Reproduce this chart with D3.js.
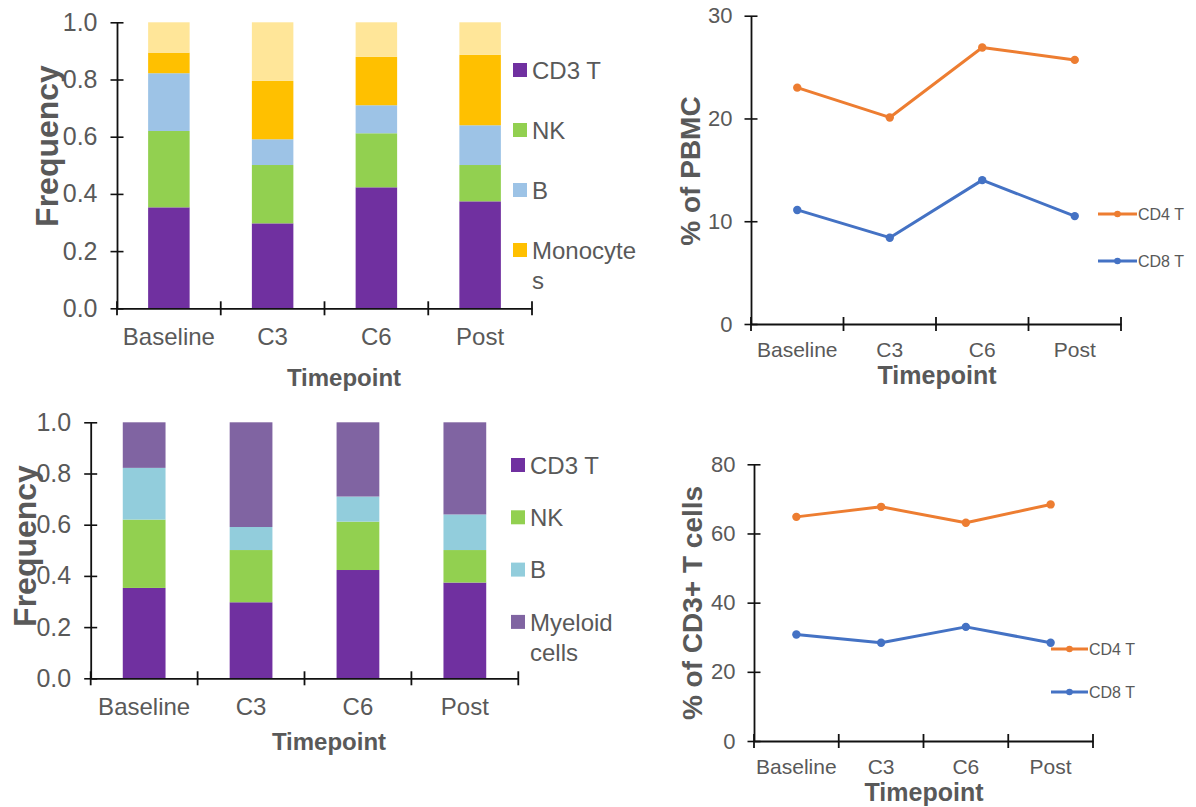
<!DOCTYPE html>
<html>
<head>
<meta charset="utf-8">
<title>Immune cell frequencies</title>
<style>
  body { margin: 0; background: #fff; }
  svg { display: block; font-family: "Liberation Sans", Arial, sans-serif; }
  .title { font-weight: bold; fill: #595959; }
  .lab { fill: #595959; }
</style>
</head>
<body>
<svg id="chart" width="1196" height="807"></svg>
<script src="https://cdn.jsdelivr.net/npm/d3@7"></script>
<script>
// categories
var timepoints = ["Baseline", "C3", "C6", "Post"];

// stacked frequencies (fraction of PBMC)
var cd3T      = [0.353, 0.297, 0.423, 0.374];
var nk        = [0.267, 0.204, 0.189, 0.127];
var bCells    = [0.202, 0.090, 0.098, 0.139];
var monocytes = [0.072, 0.204, 0.169, 0.246];
var otherPop  = [0.106, 0.205, 0.121, 0.114];
var myeloid   = [0.178, 0.409, 0.290, 0.360];

// line series
var cd4OfPbmc = [23.0, 20.1, 26.9, 25.7];
var cd8OfPbmc = [11.1, 8.4, 14.0, 10.5];
var cd4OfCd3  = [64.8, 67.7, 63.1, 68.4];
var cd8OfCd3  = [30.8, 28.4, 33.0, 28.4];

// tick labels
var freqTicks = [0, 0.2, 0.4, 0.6, 0.8, 1.0];
var pbmcTicks = [0, 10, 20, 30];
var cd3Ticks  = [0, 20, 40, 60, 80];

var svg = d3.select("#chart");

function boundaryTicks(g, x, y0) {
    var pos = timepoints.map(function(t) { return x(t); }).concat([x.range()[1]]);
    g.selectAll("line.bt").data(pos).join("line")
        .attr("class", "bt")
        .attr("x1", function(d) { return d; }).attr("x2", function(d) { return d; })
        .attr("y1", y0 - 7).attr("y2", y0 + 7)
        .attr("stroke", "#111").attr("stroke-width", 1.8);
}

function yAxis(g, y, x0, ticks, fmt, size, pad) {
    var a = g.append("g")
        .attr("transform", "translate(" + x0 + ",0)")
        .call(d3.axisLeft(y).tickValues(ticks).tickFormat(fmt).tickSize(6.5).tickSizeOuter(0).tickPadding(pad));
    a.attr("font-size", size).attr("font-family", null).attr("color", "#111");
    a.select(".domain").attr("stroke-width", 1.8);
    a.selectAll(".tick line").attr("x1", 6.5).attr("stroke-width", 1.6);
    a.selectAll(".tick text").attr("fill", "#595959");
}

function xAxis(g, x, y0, size, pad) {
    var a = g.append("g")
        .attr("transform", "translate(0," + y0 + ")")
        .call(d3.axisBottom(x).tickSize(0).tickSizeOuter(0).tickPadding(pad));
    a.attr("font-size", size).attr("font-family", null).attr("color", "#111");
    a.select(".domain").attr("stroke-width", 1.8);
    a.selectAll(".tick text").attr("fill", "#595959");
    boundaryTicks(g, x, y0);
}

function barChart(o) {
    var g = svg.append("g");
    var x = d3.scaleBand().domain(timepoints).range([o.x0, o.x1]);
    var y = d3.scaleLinear().domain([0, 1]).range([o.y0, o.y1]);
    var keys = o.series.map(function(s, i) { return "s" + i; });
    var rows = timepoints.map(function(t, i) {
        var r = { t: t };
        o.series.forEach(function(s, j) { r["s" + j] = s[i]; });
        return r;
    });
    var layers = d3.stack().keys(keys)(rows);
    var bw = x.bandwidth() * 0.4;

    g.selectAll("g.layer").data(layers).join("g")
        .attr("class", "layer")
        .attr("fill", function(d, i) { return o.colors[i]; })
        .selectAll("rect").data(function(d) { return d; }).join("rect")
        .attr("x", function(d) { return x(d.data.t) + (x.bandwidth() - bw) / 2; })
        .attr("width", bw)
        .attr("y", function(d) { return y(d[1]); })
        .attr("height", function(d) { return y(d[0]) - y(d[1]); });

    yAxis(g, y, o.x0, freqTicks, d3.format(".1f"), 25, 13);
    xAxis(g, x, o.y0, 24, 20);

    // legend
    var leg = g.selectAll("g.leg").data(o.legend).join("g")
        .attr("class", "leg")
        .attr("transform", function(d, i) { return "translate(" + o.legX + "," + (o.legY + i * o.legStep) + ")"; });
    leg.append("rect").attr("x", 0).attr("y", -7).attr("width", 14).attr("height", 14)
        .attr("fill", function(d, i) { return o.colors[i]; });
    leg.append("text").attr("class", "lab").attr("font-size", 24)
        .selectAll("tspan").data(function(d) { return [].concat(d); }).join("tspan")
        .attr("x", 19).attr("y", function(d, i) { return i * 30; }).attr("dy", "0.36em")
        .text(function(d) { return d; });

    g.append("text").attr("class", "title").attr("font-size", 24)
        .attr("text-anchor", "middle").attr("x", o.xTitleX).attr("y", o.xTitleY).text("Timepoint");
    g.append("text").attr("class", "title").attr("font-size", 32)
        .attr("text-anchor", "middle")
        .attr("transform", "translate(" + o.yTitleX + "," + o.yTitleY + ") rotate(-90)")
        .text("Frequency");
}

function lineChart(o) {
    var g = svg.append("g");
    var x = d3.scaleBand().domain(timepoints).range([o.x0, o.x1]);
    var y = d3.scaleLinear().domain([0, o.max]).range([o.y0, o.y1]);
    var cx = function(t) { return x(t) + x.bandwidth() / 2; };

    yAxis(g, y, o.x0, o.ticks, d3.format("d"), 22, 12);
    xAxis(g, x, o.y0, 21, 18);

    var line = d3.line().x(function(d, i) { return cx(timepoints[i]); }).y(function(d) { return y(d); });
    o.series.forEach(function(s, j) {
        g.append("path").datum(s).attr("d", line)
            .attr("fill", "none").attr("stroke", o.colors[j]).attr("stroke-width", 3)
            .attr("stroke-linejoin", "round");
        g.selectAll("circle.m" + j).data(s).join("circle")
            .attr("class", "m" + j)
            .attr("cx", function(d, i) { return cx(timepoints[i]); })
            .attr("cy", function(d) { return y(d); })
            .attr("r", 4.2).attr("fill", o.colors[j]);
    });

    var leg = g.selectAll("g.leg").data(o.names).join("g")
        .attr("class", "leg")
        .attr("transform", function(d, i) { return "translate(" + o.legX + "," + o.legY[i] + ")"; });
    leg.append("line").attr("x1", 0).attr("x2", o.legW).attr("y1", 0).attr("y2", 0)
        .attr("stroke", function(d, i) { return o.colors[i]; }).attr("stroke-width", 3);
    leg.append("circle").attr("cx", o.legW / 2).attr("cy", 0).attr("r", 3.3)
        .attr("fill", function(d, i) { return o.colors[i]; });
    leg.append("text").attr("class", "lab").attr("font-size", 16)
        .attr("x", o.legW + 1).attr("dy", "0.36em").text(function(d) { return d; });

    g.append("text").attr("class", "title").attr("font-size", 25)
        .attr("text-anchor", "middle").attr("x", o.xTitleX).attr("y", o.xTitleY).text("Timepoint");
    g.append("text").attr("class", "title").attr("font-size", 28)
        .attr("text-anchor", "middle")
        .attr("transform", "translate(" + o.yTitleX + "," + o.yTitleY + ") rotate(-90)")
        .text(o.yTitle);
}

barChart({
    x0: 117, x1: 532, y0: 308.3, y1: 22.3,
    series: [cd3T, nk, bCells, monocytes, otherPop],
    colors: ["#7030A0", "#92D050", "#9DC3E6", "#FFC000", "#FFE699"],
    legend: ["CD3 T", "NK", "B", ["Monocyte", "s"]],
    legX: 513, legY: 70, legStep: 60,
    xTitleX: 344, xTitleY: 386, yTitleX: 58, yTitleY: 146
});

barChart({
    x0: 90.7, x1: 518.3, y0: 678.3, y1: 422.3,
    series: [cd3T, nk, bCells, myeloid],
    colors: ["#7030A0", "#92D050", "#92CDDC", "#8064A2"],
    legend: ["CD3 T", "NK", "B", ["Myeloid", "cells"]],
    legX: 511, legY: 465, legStep: 52.3,
    xTitleX: 329, xTitleY: 750, yTitleX: 36, yTitleY: 546
});

lineChart({
    x0: 751, x1: 1121, y0: 324, y1: 15.7, max: 30, ticks: pbmcTicks,
    series: [cd4OfPbmc, cd8OfPbmc], names: ["CD4 T", "CD8 T"],
    colors: ["#ED7D31", "#4472C4"],
    legX: 1098, legY: [214, 261], legW: 39,
    xTitleX: 937, xTitleY: 384, yTitleX: 700, yTitleY: 171, yTitle: "% of PBMC"
});

lineChart({
    x0: 754, x1: 1093, y0: 741, y1: 464.3, max: 80, ticks: cd3Ticks,
    series: [cd4OfCd3, cd8OfCd3], names: ["CD4 T", "CD8 T"],
    colors: ["#ED7D31", "#4472C4"],
    legX: 1051, legY: [649, 692], legW: 37,
    xTitleX: 924, xTitleY: 801, yTitleX: 702, yTitleY: 603, yTitle: "% of CD3+ T cells"
});
</script>
</body>
</html>
